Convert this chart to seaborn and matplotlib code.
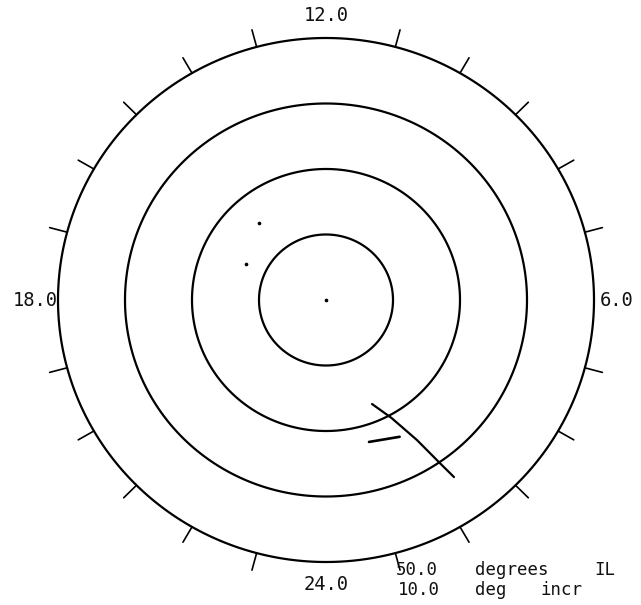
import numpy as np
import pandas as pd
import matplotlib
matplotlib.use("Agg")
import matplotlib.pyplot as plt
import seaborn as sns

# rings of invariant latitude (deg IL), outermost = 50
ring_il = [80, 70, 60, 50]
hour_ticks = [h for h in range(24) if h % 6 != 0]
label_mlt = [12, 6, 18, 24]
label_txt = ["12.0", "6.0", "18.0", "24.0"]

# traced curve (MLT, IL)
curve_mlt = [1.56, 1.90, 2.16, 2.30, 2.35]
curve_il = [72.7, 69.5, 64.7, 59.3, 56.9]
# short segment
seg_mlt = [1.10, 1.85]
seg_il = [67.4, 66.4]
# isolated points
pt_mlt = [14.68, 16.35, 0.0]
pt_il = [74.6, 76.9, 90.0]


def to_xy(mlt, il):
    mlt = np.asarray(mlt, dtype=float)
    r = 90 - np.asarray(il, dtype=float)
    th = np.deg2rad((12 - mlt) * 15)
    return r * np.sin(th), r * np.cos(th)


sns.set_style("white")
plt.rcParams["font.family"] = ["DejaVu Sans Mono"]
fig = plt.figure(figsize=(6.41, 6.05), dpi=100)
ax = fig.add_axes([0, 0, 1, 1])

# grid rings
t = np.linspace(0, 24, 400, endpoint=False)
for il in ring_il:
    x, y = to_xy(t, np.full_like(t, il))
    ax.fill(x, y, fill=False, edgecolor="black", lw=1.6)

# hour ticks outside the outer ring
for h in hour_ticks:
    x, y = to_xy([h, h], [50, 47.3])
    ax.plot(x, y, color="black", lw=1.2)

for m, s in zip(label_mlt, label_txt):
    x, y = to_xy(m, 46.6)
    ax.text(x, y, s, ha="center", va="center", fontsize=13.5, color="#111111")

x, y = to_xy(curve_mlt, curve_il)
sns.lineplot(x=x, y=y, sort=False, estimator=None, color="black", lw=1.6, ax=ax)
x, y = to_xy(seg_mlt, seg_il)
sns.lineplot(x=x, y=y, sort=False, estimator=None, color="black", lw=1.9, ax=ax)
x, y = to_xy(pt_mlt, pt_il)
sns.scatterplot(x=x, y=y, color="black", s=7, linewidth=0, ax=ax)

# footnote, word by word (wide plotter lettering)
for s, px, py in [("50.0", 396, 570), ("degrees", 475, 570), ("IL", 594, 570),
                  ("10.0", 398, 590), ("deg", 475, 590), ("incr", 540, 590)]:
    fig.text(px / 641, 1 - py / 605, s, ha="left", va="center", fontsize=12.5,
             color="#111111")

ax.set_xlim(-326 / 6.7, (641 - 326) / 6.7)
ax.set_ylim(-305 / 6.55, 300 / 6.55)
ax.set_axis_off()

fig.savefig("out.png", dpi=100, facecolor="white")
